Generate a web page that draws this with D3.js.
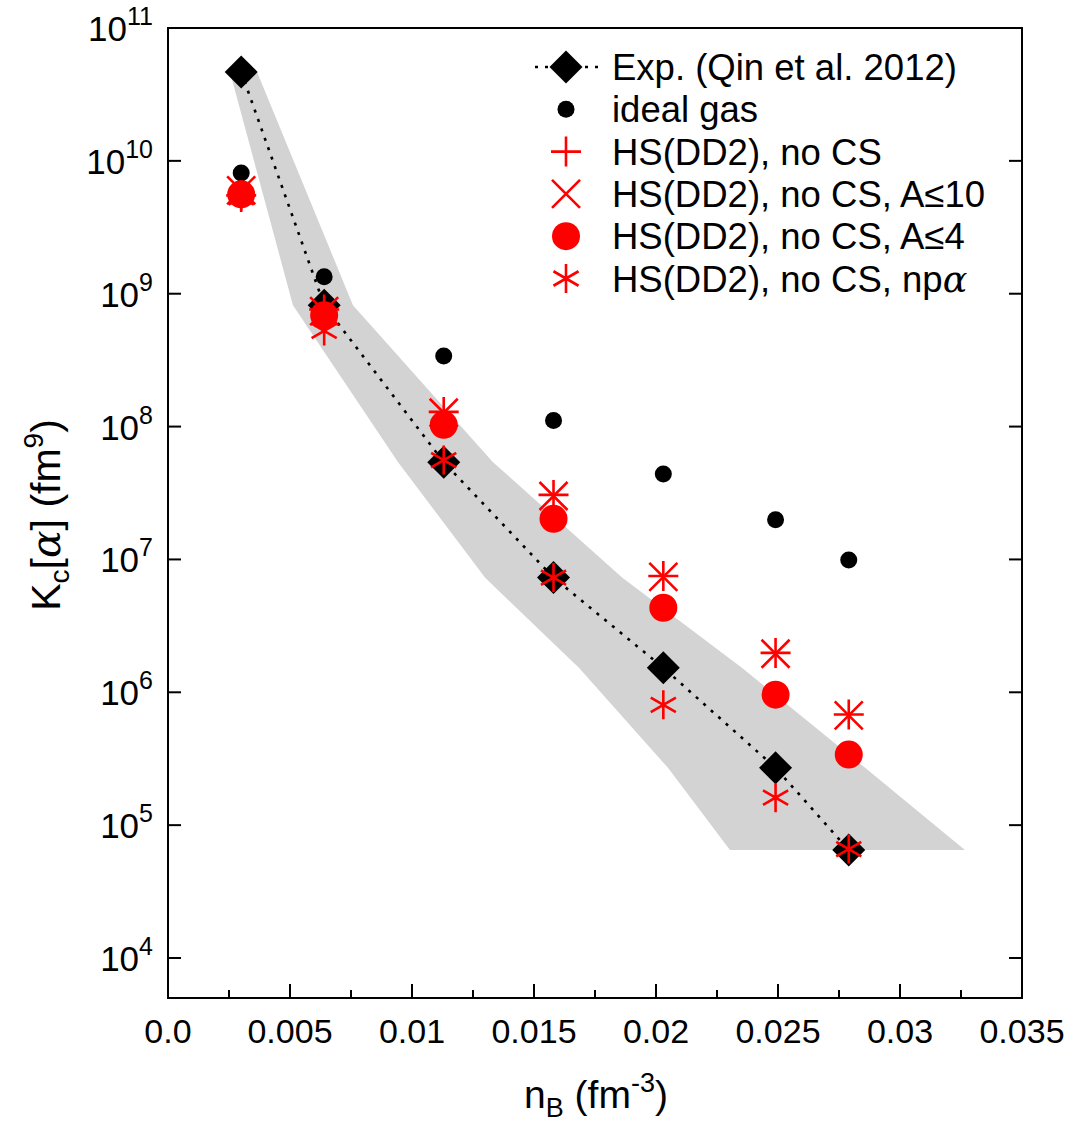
<!DOCTYPE html>
<html>
<head>
<meta charset="utf-8">
<script src="https://cdn.jsdelivr.net/npm/d3@7"></script>
<style>
  body { margin: 0; background: #fff; }
  text { font-family: "Liberation Sans", Arial, Helvetica, sans-serif; fill: #000; }
</style>
</head>
<body>
<svg id="chart" width="1070" height="1125"></svg>
<script>
// Baryon densities n_B (fm^-3) of the measured points
const nB = [0.0030, 0.0064, 0.0113, 0.0158, 0.0203, 0.0249, 0.0279];

// Chemical equilibrium constant K_c[alpha] (fm^9)
const kExp      = [4.67e10, 8.2e8, 5.4e7, 7.3e6, 1.53e6, 2.7e5, 6.5e4];   // Qin et al. 2012
const kIdeal    = [8.1e9, 1.34e9, 3.4e8, 1.11e8, 4.4e7, 1.99e7, 9.9e6];   // ideal gas
const kNoCS     = [5.5e9, 7.6e8, 1.29e8, 3.06e7, 7.5e6, 1.98e6, 6.8e5];   // HS(DD2), no CS
const kA10      = [6.0e9, 7.4e8, 1.27e8, 3.0e7, 7.4e6, 1.95e6, 6.7e5];    // HS(DD2), no CS, A<=10
const kA4       = [5.6e9, 6.9e8, 1.03e8, 2.02e7, 4.33e6, 9.6e5, 3.4e5];   // HS(DD2), no CS, A<=4
const kNPA      = [5.3e9, 5.25e8, 5.6e7, 7.3e6, 8.05e5, 1.61e5, 6.6e4];   // HS(DD2), no CS, n p alpha

// Density uncertainty band of the experiment: lower / upper n_B at each K_c of kExp
const bandLow  = [0.00254, 0.00512, 0.00943, 0.01299, 0.01684, 0.02049, 0.02303];
const bandHigh = [0.00365, 0.00758, 0.01332, 0.01861, 0.02352, 0.02857, 0.03266];

// Axis ticks
const xTicks = [0, 0.005, 0.01, 0.015, 0.02, 0.025, 0.03, 0.035];
const xTickLabels = ["0.0", "0.005", "0.01", "0.015", "0.02", "0.025", "0.03", "0.035"];
const xMinorTicks = [0.0025, 0.0075, 0.0125, 0.0175, 0.0225, 0.0275, 0.0325];
const yExponents = [4, 5, 6, 7, 8, 9, 10, 11];

const plot = { left: 168, right: 1022, top: 28, bottom: 998 };

const svg = d3.select("#chart");
const x = d3.scaleLinear().domain([0, 0.035]).range([plot.left, plot.right]);
const y = d3.scaleLog().domain([5e3, 1e11]).range([plot.bottom, plot.top]);

const RED = "#ff0000";

// ---- grey band
const bandPts = nB.map((d, i) => [bandHigh[i], kExp[i]])
  .concat(nB.map((d, i) => [bandLow[i], kExp[i]]).reverse());
svg.append("path")
  .attr("d", d3.line().x(d => x(d[0])).y(d => y(d[1]))(bandPts) + "Z")
  .attr("fill", "#d3d3d3");

// ---- symbol shapes
const shapes = {
  diamond: h => `M0,${-h}L${h},0L0,${h}L${-h},0Z`,
  plus: h => `M${-h},0H${h}M0,${-h}V${h}`,
  cross: h => `M${-h},${-h}L${h},${h}M${-h},${h}L${h},${-h}`,
  star: h => {
    const c = Math.cos(Math.PI / 6) * h, s = Math.sin(Math.PI / 6) * h;
    return `M0,${-h}V${h}M${-c},${-s}L${c},${s}M${-c},${s}L${c},${-s}`;
  }
};

const series = [
  { key: "exp",   vals: kExp,   kind: "diamond", color: "#000" },
  { key: "ideal", vals: kIdeal, kind: "dot",     color: "#000" },
  { key: "nocs",  vals: kNoCS,  kind: "plus",    color: RED },
  { key: "a10",   vals: kA10,   kind: "cross",   color: RED },
  { key: "a4",    vals: kA4,    kind: "circle",  color: RED },
  { key: "npa",   vals: kNPA,   kind: "star",    color: RED }
];

function drawMark(g, kind, color) {
  if (kind === "diamond") {
    g.append("path").attr("d", shapes.diamond(16.5)).attr("fill", color);
  } else if (kind === "dot") {
    g.append("circle").attr("r", 8.5).attr("fill", color);
  } else if (kind === "circle") {
    g.append("circle").attr("r", 14).attr("fill", color);
  } else {
    const h = kind === "plus" ? 15 : kind === "cross" ? 14 : 14.5;
    g.append("path").attr("d", shapes[kind](h))
      .attr("fill", "none").attr("stroke", color).attr("stroke-width", 2.6);
  }
}

// ---- dotted line through the experimental points
svg.append("path")
  .attr("d", d3.line().x((d, i) => x(nB[i])).y(d => y(d))(kExp))
  .attr("fill", "none").attr("stroke", "#000")
  .attr("stroke-width", 2.6).attr("stroke-dasharray", "3,7");

// ---- markers
series.forEach(s => {
  const g = svg.append("g").attr("class", "series-" + s.key);
  s.vals.forEach((v, i) => {
    const m = g.append("g").attr("transform", `translate(${x(nB[i])},${y(v)})`);
    drawMark(m, s.kind, s.color);
  });
});

// ---- frame and ticks (x ticks on the bottom edge, y ticks mirrored on the right)
const axisG = svg.append("g").attr("stroke", "#000").attr("stroke-width", 2);
axisG.append("rect")
  .attr("x", plot.left).attr("y", plot.top)
  .attr("width", plot.right - plot.left).attr("height", plot.bottom - plot.top)
  .attr("fill", "none");

xTicks.forEach(t => {
  axisG.append("line").attr("x1", x(t)).attr("x2", x(t))
    .attr("y1", plot.bottom).attr("y2", plot.bottom - 14);
});
xMinorTicks.forEach(t => {
  axisG.append("line").attr("x1", x(t)).attr("x2", x(t))
    .attr("y1", plot.bottom).attr("y2", plot.bottom - 8);
});
yExponents.forEach(e => {
  const yy = y(Math.pow(10, e));
  axisG.append("line").attr("x1", plot.left).attr("x2", plot.left + 13)
    .attr("y1", yy).attr("y2", yy);
  axisG.append("line").attr("x1", plot.right).attr("x2", plot.right - 13)
    .attr("y1", yy).attr("y2", yy);
});

// ---- tick labels
xTicks.forEach((t, i) => {
  svg.append("text").attr("x", x(t)).attr("y", 1043)
    .attr("text-anchor", "middle").attr("font-size", 34)
    .text(xTickLabels[i]);
});
yExponents.forEach(e => {
  const tx = svg.append("text").attr("x", 153).attr("y", y(Math.pow(10, e)) + 13)
    .attr("text-anchor", "end").attr("font-size", 35);
  tx.append("tspan").text("10");
  tx.append("tspan").attr("dy", -16).attr("font-size", 25).text(e);
});

// ---- axis titles
const xt = svg.append("text").attr("x", 596).attr("y", 1108)
  .attr("text-anchor", "middle").attr("font-size", 39);
xt.append("tspan").text("n");
xt.append("tspan").attr("dy", 9).attr("font-size", 27).text("B");
xt.append("tspan").attr("dy", -9).text(" (fm");
xt.append("tspan").attr("dy", -16).attr("font-size", 27).text("-3");
xt.append("tspan").attr("dy", 16).text(")");

const yt = svg.append("text").attr("transform", "translate(60,515) rotate(-90)")
  .attr("text-anchor", "middle").attr("font-size", 41);
yt.append("tspan").text("K");
yt.append("tspan").attr("dy", 9).attr("font-size", 28).text("c");
yt.append("tspan").attr("dy", -9).text("[");
yt.append("tspan").attr("font-family", "DejaVu Serif").attr("font-style", "italic").text("α");
yt.append("tspan").text("] (fm");
yt.append("tspan").attr("dy", -17).attr("font-size", 28).text("9");
yt.append("tspan").attr("dy", 17).text(")");

// ---- legend
const legendLabels = [
  "Exp. (Qin et al. 2012)",
  "ideal gas",
  "HS(DD2), no CS",
  "HS(DD2), no CS, A\u226410",
  "HS(DD2), no CS, A\u22644",
  "HS(DD2), no CS, np"
];
const legendTop = 67, legendStep = 42.3, legendSymX = 566, legendTextX = 612;
series.forEach((s, i) => {
  const ly = legendTop + i * legendStep;
  if (s.kind === "diamond") {
    svg.append("line").attr("x1", 535).attr("x2", 600).attr("y1", ly).attr("y2", ly)
      .attr("stroke", "#000").attr("stroke-width", 2.6).attr("stroke-dasharray", "3,7");
  }
  const m = svg.append("g").attr("transform", `translate(${legendSymX},${ly})`);
  drawMark(m, s.kind, s.color);
  const t = svg.append("text").attr("x", legendTextX).attr("y", ly + 13)
    .attr("font-size", 36.5).text(legendLabels[i]);
  if (s.key === "npa") {
    t.append("tspan").attr("font-family", "DejaVu Serif").attr("font-style", "italic").text("α");
  }
});
</script>
</body>
</html>
